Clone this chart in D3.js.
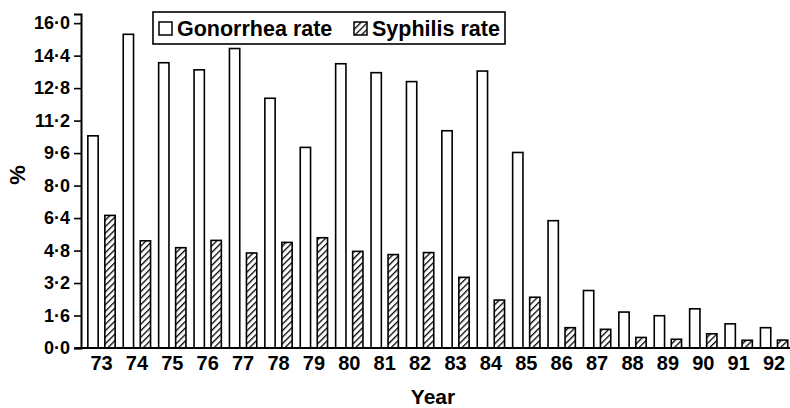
<!DOCTYPE html>
<html>
<head>
<meta charset="utf-8">
<script src="https://cdn.jsdelivr.net/npm/d3@7"></script>
<style>
  body { margin: 0; background: #fff; }
  svg text { font-family: "Liberation Sans", Arial, sans-serif; font-weight: bold; fill: #000; }
</style>
</head>
<body>
<div id="chart"></div>
<script>
const years = ["73","74","75","76","77","78","79","80","81","82","83","84","85","86","87","88","89","90","91","92"];
const gonorrhea = [10.45, 15.45, 14.05, 13.7, 14.75, 12.3, 9.88, 14.0, 13.56, 13.12, 10.7, 13.64, 9.63, 6.27, 2.83, 1.77, 1.59, 1.93, 1.19, 1.0];
const syphilis = [6.53, 5.28, 4.94, 5.3, 4.68, 5.2, 5.43, 4.76, 4.6, 4.7, 3.48, 2.36, 2.5, 1.0, 0.92, 0.52, 0.43, 0.7, 0.38, 0.39];
const yTicks = [0, 1.6, 3.2, 4.8, 6.4, 8.0, 9.6, 11.2, 12.8, 14.4, 16.0];
const seriesNames = ["Gonorrhea rate", "Syphilis rate"];

const width = 790, height = 408;

const svg = d3.select("#chart").append("svg")
    .attr("width", width)
    .attr("height", height);

// diagonal hatch for syphilis
svg.append("defs").append("pattern")
    .attr("id", "hatch")
    .attr("patternUnits", "userSpaceOnUse")
    .attr("width", 4.6)
    .attr("height", 4.6)
    .attr("patternTransform", "rotate(45)")
  .append("line")
    .attr("x1", 0).attr("y1", 0)
    .attr("x2", 0).attr("y2", 4.6)
    .attr("stroke", "#000")
    .attr("stroke-width", 2.6);

const x0 = d3.scaleBand()
    .domain(years)
    .range([83.8, 791.8])
    .padding(0);

const x1 = d3.scaleBand()
    .domain(["gon", "syph"])
    .range([0, x0.bandwidth()])
    .paddingInner(0.394)
    .paddingOuter(0.238);

const y = d3.scaleLinear()
    .domain([0, 16.45])
    .range([348, 14]);

const rows = years.map((yr, i) => ({ year: yr, gon: gonorrhea[i], syph: syphilis[i] }));

// bars
const groups = svg.selectAll(".grp")
    .data(rows)
    .enter().append("g")
    .attr("class", "grp")
    .attr("transform", d => `translate(${x0(d.year)},0)`);

groups.selectAll("rect")
    .data(d => ["gon", "syph"].map(k => ({ key: k, value: d[k] })))
    .enter().append("rect")
    .attr("x", d => x1(d.key))
    .attr("y", d => y(d.value))
    .attr("width", x1.bandwidth())
    .attr("height", d => y(0) - y(d.value))
    .attr("fill", d => d.key === "gon" ? "#fff" : "url(#hatch)")
    .attr("stroke", "#000")
    .attr("stroke-width", 1.6);

// y axis
const yAxis = svg.append("g")
    .attr("transform", "translate(81,0)")
    .call(d3.axisLeft(y)
        .tickValues(yTicks)
        .tickSizeOuter(0)
        .tickSize(7)
        .tickPadding(4)
        .tickFormat(d => d.toFixed(1).replace(".", "·")));
yAxis.select(".domain").attr("stroke-width", 2);
yAxis.selectAll(".tick line").attr("stroke-width", 1.6);
yAxis.selectAll("text").style("font-size", "18px");

// x axis baseline
svg.append("line")
    .attr("x1", 75).attr("x2", 790)
    .attr("y1", y(0)).attr("y2", y(0))
    .attr("stroke", "#000")
    .attr("stroke-width", 2);

const xAxis = svg.append("g")
    .attr("transform", `translate(0,${y(0)})`)
    .call(d3.axisBottom(x0).tickSize(0).tickPadding(8));
xAxis.select(".domain").remove();
xAxis.selectAll("text").style("font-size", "20px");

// axis titles
svg.append("text")
    .attr("transform", "translate(25,175) rotate(-90)")
    .attr("text-anchor", "middle")
    .style("font-size", "22px")
    .text("%");

svg.append("text")
    .attr("x", 433)
    .attr("y", 404)
    .attr("text-anchor", "middle")
    .style("font-size", "21px")
    .text("Year");

// legend
const legend = svg.append("g");
legend.append("rect")
    .attr("x", 153).attr("y", 12)
    .attr("width", 352).attr("height", 32)
    .attr("fill", "#fff")
    .attr("stroke", "#000")
    .attr("stroke-width", 1.6);

const legendX = [159, 354];
const items = legend.selectAll(".item")
    .data(seriesNames)
    .enter().append("g")
    .attr("transform", (d, i) => `translate(${legendX[i]},22)`);

items.append("rect")
    .attr("width", 13).attr("height", 13)
    .attr("fill", (d, i) => i === 0 ? "#fff" : "url(#hatch)")
    .attr("stroke", "#000")
    .attr("stroke-width", 1.5);

items.append("text")
    .attr("x", 18)
    .attr("y", 14)
    .style("font-size", "21.5px")
    .text(d => d);
</script>
</body>
</html>
